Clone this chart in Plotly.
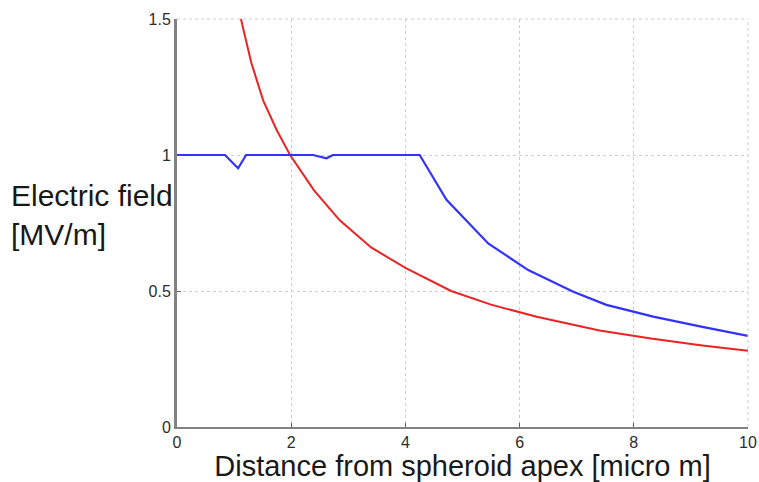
import plotly.graph_objects as go

# Blue series
blue_x = [0.0, 0.5, 0.84, 1.07, 1.21, 2.0, 2.38, 2.62, 2.73, 3.5, 4.25, 4.72, 5.45, 6.15, 6.94, 7.52, 8.34, 9.2, 10.0]
blue_y = [1.0, 1.0, 1.0, 0.951, 1.0, 1.0, 1.0, 0.988, 1.0, 1.0, 1.0, 0.835, 0.675, 0.577, 0.497, 0.449, 0.406, 0.368, 0.335]

# Red series
red_x = [1.12, 1.3, 1.51, 1.75, 1.98, 2.4, 2.85, 3.4, 4.0, 4.8, 5.5, 6.3, 7.4, 8.3, 9.2, 10.0]
red_y = [1.5, 1.34, 1.2, 1.09, 1.0, 0.87, 0.76, 0.66, 0.585, 0.50, 0.45, 0.405, 0.355, 0.325, 0.30, 0.28]

x_ticks = [0, 2, 4, 6, 8, 10]
y_ticks = [0, 0.5, 1, 1.5]
y_tick_text = ["0", "0.5", "1", "1.5"]

x_title = "Distance from spheroid apex [micro m]"
y_title = "Electric field<br>[MV/m]"

FONT = "Liberation Sans, Arial, sans-serif"

fig = go.Figure()
fig.add_trace(go.Scatter(x=red_x, y=red_y, mode="lines",
                         line=dict(color="rgb(235,35,35)", width=2)))
fig.add_trace(go.Scatter(x=blue_x, y=blue_y, mode="lines",
                         line=dict(color="rgb(50,50,255)", width=2.2)))

axis_common = dict(
    showgrid=True, gridcolor="rgb(205,205,205)", griddash="dot", gridwidth=1,
    zeroline=False, showline=True, linecolor="rgb(130,130,130)",
    ticks="inside", ticklen=4, tickcolor="rgb(90,90,90)", automargin=False,
    tickfont=dict(family=FONT, size=16, color="rgb(45,45,45)"),
)

fig.update_xaxes(range=[0, 10], tickvals=x_ticks, linewidth=2,
                 title=dict(text=x_title, standoff=4,
                            font=dict(family=FONT, size=29, color="rgb(25,25,25)")),
                 **axis_common)
fig.update_yaxes(range=[0, 1.5], tickvals=y_ticks, ticktext=y_tick_text, linewidth=3,
                 **axis_common)

# dotted border lines at top (y=1.5) and right (x=10), like the grid
fig.add_shape(type="line", xref="paper", yref="paper", x0=0, x1=1, y0=1, y1=1,
              line=dict(color="rgb(205,205,205)", width=1, dash="dot"))
fig.add_shape(type="line", xref="paper", yref="paper", x0=1, x1=1, y0=0, y1=1,
              line=dict(color="rgb(205,205,205)", width=1, dash="dot"))

fig.add_annotation(text=y_title, xref="paper", yref="paper", x=-0.295, y=0.52,
                   xanchor="left", yanchor="middle", align="left", showarrow=False,
                   font=dict(family=FONT, size=30, color="rgb(25,25,25)"))

fig.update_layout(
    width=759, height=482,
    margin=dict(l=177, r=11, t=19, b=55),
    plot_bgcolor="white", paper_bgcolor="white",
    showlegend=False,
)

fig.write_html("out.html")
